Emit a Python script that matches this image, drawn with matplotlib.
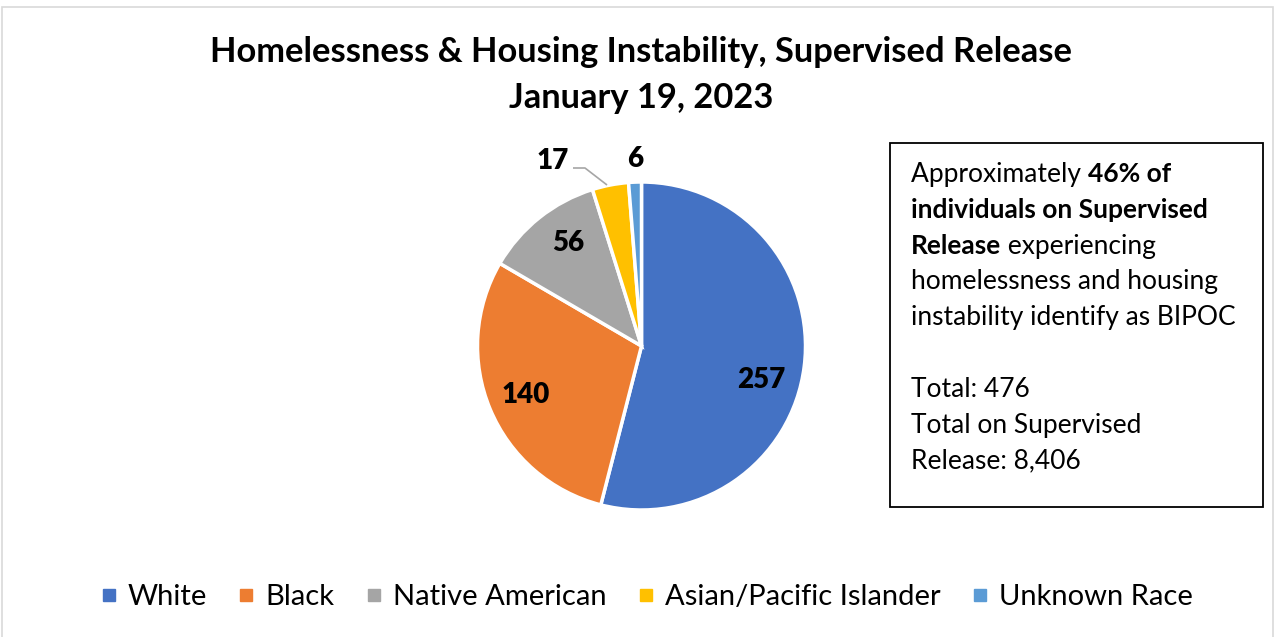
import numpy as np
import matplotlib
matplotlib.use("Agg")
import matplotlib.pyplot as plt
from matplotlib.lines import Line2D
from matplotlib.patches import Rectangle

# Data
categories = ["White", "Black", "Native American", "Asian/Pacific Islander", "Unknown Race"]
counts = [257, 140, 56, 17, 6]
colors = ["#4472C4", "#ED7D31", "#A5A5A5", "#FFC000", "#5B9BD5"]
title_lines = ["Homelessness & Housing Instability, Supervised Release", "January 19, 2023"]
total_count = sum(counts)
total_supervised = 8406
bipoc_pct = 46

W, H = 1276, 637
plt.rcParams["font.family"] = ["Lato", "DejaVu Sans"]
fig = plt.figure(figsize=(W / 100, H / 100), dpi=100)
fig.patch.set_facecolor("white")

# outer chart border (light gray)
fig.add_artist(Rectangle((2 / W, -0.01), (1273 - 2) / W, (H - 7) / H + 0.01,
                         transform=fig.transFigure, fill=False,
                         edgecolor="#D9D9D9", linewidth=1.2))

# title
fig.text(641 / W, 1 - 52 / H, title_lines[0], ha="center", va="center",
         fontsize=24.8, fontweight="bold")
fig.text(641 / W, 1 - 98 / H, title_lines[1], ha="center", va="center",
         fontsize=24.8, fontweight="bold")

# pie axes: 1 data unit = R pixels
R = 164.0
span = 1.4
cx, cy = 641.5, 346.0
ax = fig.add_axes([(cx - span * R) / W, (H - cy - span * R) / H,
                   2 * span * R / W, 2 * span * R / H])

wedges, _ = ax.pie(counts, colors=colors, startangle=90, counterclock=False,
                   radius=1.0, wedgeprops=dict(edgecolor="white", linewidth=2.5))
ax.set_xlim(-span, span)
ax.set_ylim(-span, span)
ax.set_aspect("equal")
ax.axis("off")

# data labels inside the larger slices: (radius fraction, angle shift in degrees)
label_pos = {0: (0.76, -8.6), 1: (0.77, 0.3), 2: (0.77, -3.0)}
lab_fs = 20
lab_wt = "heavy"
for i, w in enumerate(wedges):
    mid = np.deg2rad((w.theta1 + w.theta2) / 2)
    if i in label_pos:
        r, dang = label_pos[i]
        a = mid + np.deg2rad(dang)
        x, y = r * np.cos(a), r * np.sin(a)
        ax.text(x, y, str(counts[i]), ha="center", va="center",
                fontsize=lab_fs, fontweight=lab_wt)

# small slices: labels outside, one with a leader line
lx, ly = (553 - cx) / R, (cy - 161) / R
ax.text(lx, ly, str(counts[3]), ha="center", va="center", fontsize=lab_fs, fontweight=lab_wt)
mid3 = np.deg2rad((wedges[3].theta1 + wedges[3].theta2) / 2)
ax.plot([(573 - cx) / R, (585 - cx) / R, 1.0 * np.cos(mid3) - 0.02],
        [(cy - 168) / R, (cy - 168) / R, 1.0 * np.sin(mid3)],
        color="#A6A6A6", linewidth=1.2, solid_capstyle="butt")
mid4 = np.deg2rad((wedges[4].theta1 + wedges[4].theta2) / 2)
ax.text(1.15 * np.cos(mid4) + 0.01, 1.14 * np.sin(mid4), str(counts[4]),
        ha="center", va="center", fontsize=lab_fs, fontweight=lab_wt)

# annotation box
bx0, by0, bx1, by1 = 890, 143, 1263, 507
fig.add_artist(Rectangle((bx0 / W, 1 - by1 / H), (bx1 - bx0) / W, (by1 - by0) / H,
                         transform=fig.transFigure, fill=False,
                         edgecolor="black", linewidth=1.3))

fs_box = 19
lines = [
    [("Approximately ", "normal"), (f"{bipoc_pct}% of", "bold")],
    [("individuals on Supervised", "bold")],
    [("Release", "bold"), (" experiencing", "normal")],
    [("homelessness and housing", "normal")],
    [("instability identify as BIPOC", "normal")],
    [],
    [(f"Total: {total_count}", "normal")],
    [("Total on Supervised", "normal")],
    [(f"Release: {total_supervised:,}", "normal")],
]
fig.canvas.draw()
renderer = fig.canvas.get_renderer()
y0, dy = 172, 35.8
for k, parts in enumerate(lines):
    x = 911
    y = y0 + k * dy
    for txt, wt in parts:
        t = fig.text(x / W, 1 - y / H, txt, ha="left", va="center_baseline",
                     fontsize=fs_box, fontweight=wt)
        bb = t.get_window_extent(renderer)
        x += bb.width

# legend
handles = [Line2D([], [], linestyle="none", marker="s", markersize=9,
                  markerfacecolor=c, markeredgecolor=c) for c in colors]
fig.legend(handles, categories, loc="center", bbox_to_anchor=(647 / W, 1 - 597 / H),
           ncol=5, frameon=False, fontsize=21, handlelength=0.5,
           handletextpad=0.4, columnspacing=1.1)

fig.savefig("out.png", dpi=100, facecolor="white")
